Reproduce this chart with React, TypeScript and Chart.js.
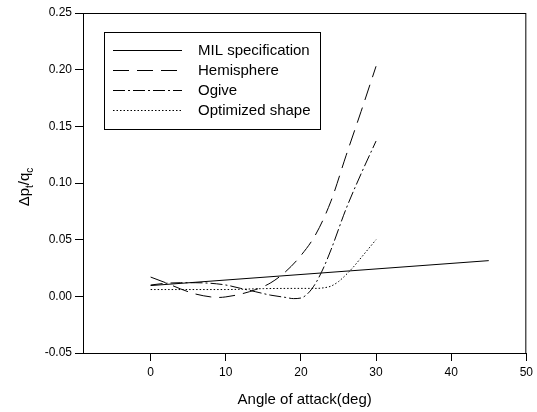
import React, { useEffect, useRef } from "react";
import { Chart, registerables } from "chart.js";

Chart.register(...registerables);

const milX = [0, 45];
const milY = [0.0095, 0.0315];

const hemiX = [0, 2, 4, 6, 8, 9, 10, 12, 14, 16, 18, 20, 22, 24, 26, 28, 30];
const hemiY = [0.017, 0.012, 0.0065, 0.002, -0.0005, -0.001, -0.0005, 0.002, 0.006, 0.012, 0.022, 0.036, 0.055, 0.084, 0.124, 0.163, 0.203];

const ogiveX = [0, 2, 4, 6, 8, 10, 12, 14, 16, 18, 19, 20, 21, 22, 23, 24, 26, 28, 30];
const ogiveY = [0.01, 0.0115, 0.012, 0.012, 0.0115, 0.01, 0.007, 0.004, 0.001, -0.001, -0.002, -0.0015, 0.003, 0.012, 0.025, 0.041, 0.077, 0.108, 0.137];

const optX = [0, 5, 10, 15, 20, 22, 23, 24, 25, 26, 27, 28, 29, 30];
const optY = [0.006, 0.006, 0.006, 0.0068, 0.007, 0.007, 0.0075, 0.009, 0.013, 0.019, 0.026, 0.034, 0.042, 0.05];

const seriesNames = ["MIL specification", "Hemisphere", "Ogive", "Optimized shape"];
const xTicks = [0, 10, 20, 30, 40, 50];
const xTitle = "Angle of attack(deg)";

const FONT = "'Liberation Sans', Arial, sans-serif";

const pts = (xs: number[], ys: number[]) => xs.map((x, i) => ({ x, y: ys[i] }));

const dashes: number[][] = [[], [16, 8], [12, 3, 2, 3], [1.5, 2]];

export default function App() {
  const ref = useRef<HTMLCanvasElement | null>(null);
  useEffect(() => {
    if (!ref.current) return;
    const overlay = {
      id: "overlay",
      afterDraw(chart: any) {
        const { ctx, chartArea } = chart;
        const { left, right, top, bottom } = chartArea;
        ctx.save();
        // frame
        ctx.strokeStyle = "#000";
        ctx.lineWidth = 1;
        ctx.strokeRect(left + 0.5, top + 0.5, right - left - 1, bottom - top);
        // legend
        const bx = 104, by = 32, bw = 216, bh = 97;
        ctx.fillStyle = "#fff";
        ctx.fillRect(bx, by, bw, bh);
        ctx.strokeRect(bx + 0.5, by + 0.5, bw, bh);
        const rows = [50.5, 70.5, 90.5, 110.5];
        ctx.font = `15px ${FONT}`;
        ctx.textBaseline = "middle";
        ctx.textAlign = "left";
        rows.forEach((ry, i) => {
          ctx.beginPath();
          ctx.setLineDash(dashes[i]);
          ctx.lineWidth = 1;
          ctx.moveTo(113, ry);
          ctx.lineTo(182, ry);
          ctx.stroke();
          ctx.setLineDash([]);
          ctx.fillStyle = "#000";
          ctx.fillText(seriesNames[i], 198, ry);
        });
        // x title
        ctx.textAlign = "center";
        ctx.font = `15px ${FONT}`;
        ctx.fillText(xTitle, (left + right) / 2, 400);
        // y title with subscripts
        ctx.translate(25, 187);
        ctx.rotate(-Math.PI / 2);
        const big = `15px ${FONT}`;
        const small = `10px ${FONT}`;
        const parts: [string, boolean][] = [["Δp", false], ["t", true], ["/q", false], ["c", true]];
        let total = 0;
        parts.forEach(([t, s]) => {
          ctx.font = s ? small : big;
          total += ctx.measureText(t).width;
        });
        let cx = -total / 2;
        ctx.textAlign = "left";
        parts.forEach(([t, s]) => {
          ctx.font = s ? small : big;
          ctx.fillText(t, cx, s ? 5 : 0);
          cx += ctx.measureText(t).width;
        });
        ctx.restore();
      },
    };
    const mk = (label: string, xs: number[], ys: number[], i: number) => ({
      label,
      data: pts(xs, ys),
      borderColor: "#000",
      borderWidth: 1,
      borderDash: dashes[i],
      pointRadius: 0,
      fill: false,
      cubicInterpolationMode: "monotone" as const,
    });
    const chart = new Chart(ref.current, {
      type: "line",
      data: {
        datasets: [
          mk(seriesNames[0], milX, milY, 0),
          mk(seriesNames[1], hemiX, hemiY, 1),
          mk(seriesNames[2], ogiveX, ogiveY, 2),
          mk(seriesNames[3], optX, optY, 3),
        ],
      },
      options: {
        animation: false,
        responsive: false,
        maintainAspectRatio: false,
        layout: { padding: { top: 13, right: 10, left: 0, bottom: 0 } },
        plugins: { legend: { display: false }, tooltip: { enabled: false } },
        scales: {
          x: {
            type: "linear",
            min: -9,
            max: 50,
            afterBuildTicks: (s: any) => {
              s.ticks = xTicks.map((v) => ({ value: v }));
            },
            afterFit: (s: any) => {
              s.height = 59;
            },
            grid: { drawOnChartArea: false, drawTicks: true, tickLength: 8, color: "#000" },
            border: { display: true, color: "#000" },
            ticks: { color: "#000", font: { family: FONT, size: 12 }, padding: 4, maxRotation: 0 },
          },
          y: {
            type: "linear",
            min: -0.05,
            max: 0.25,
            afterFit: (s: any) => {
              s.width = 83;
            },
            grid: { drawOnChartArea: false, drawTicks: true, tickLength: 8, color: "#000" },
            border: { display: true, color: "#000" },
            ticks: {
              stepSize: 0.05,
              color: "#000",
              font: { family: FONT, size: 12 },
              padding: 3,
              callback: (v: any) => {
                const n = Math.abs(Number(v)) < 1e-9 ? 0 : Number(v);
                return n.toFixed(2);
              },
            },
          },
        },
      },
      plugins: [overlay],
    });
    return () => chart.destroy();
  }, []);
  return (
    <div style={{ position: "fixed", left: 0, top: 0, width: 537, height: 412, background: "#fff" }}>
      <canvas ref={ref} width={537} height={412} style={{ width: 537, height: 412 }} />
    </div>
  );
}
